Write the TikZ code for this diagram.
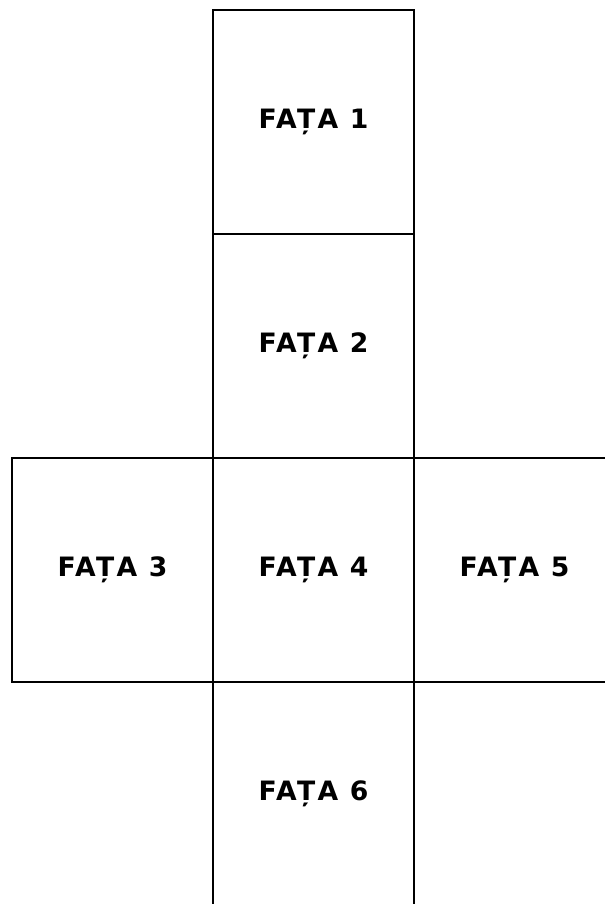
\documentclass[tikz,border=0pt]{standalone}
\usepackage{fontspec}
\newfontfamily\fatafont{DejaVu Sans}[LetterSpace=9]
\tikzset{
  fata/.style={
    draw,
    line width=1.6pt,
    minimum width=150.75pt,
    minimum height=168pt,
    inner sep=0pt,
    font=\fatafont\bfseries\fontsize{20}{24}\selectfont
  }
}

\begin{document}
\begin{tikzpicture}[x=0.75pt,y=-0.75pt]
    \clip (0,0) rectangle (605,904);
    % fetele cubului desfasurat
    \foreach \i/\c/\r in {1/1/0,2/1/1,3/0/2,4/1/2,5/2/2,6/1/3}{
            \node[fata] (f\i) at (112.5+\c*201,122+\r*224) {FAȚA \i};
        }
\end{tikzpicture}
\end{document}
